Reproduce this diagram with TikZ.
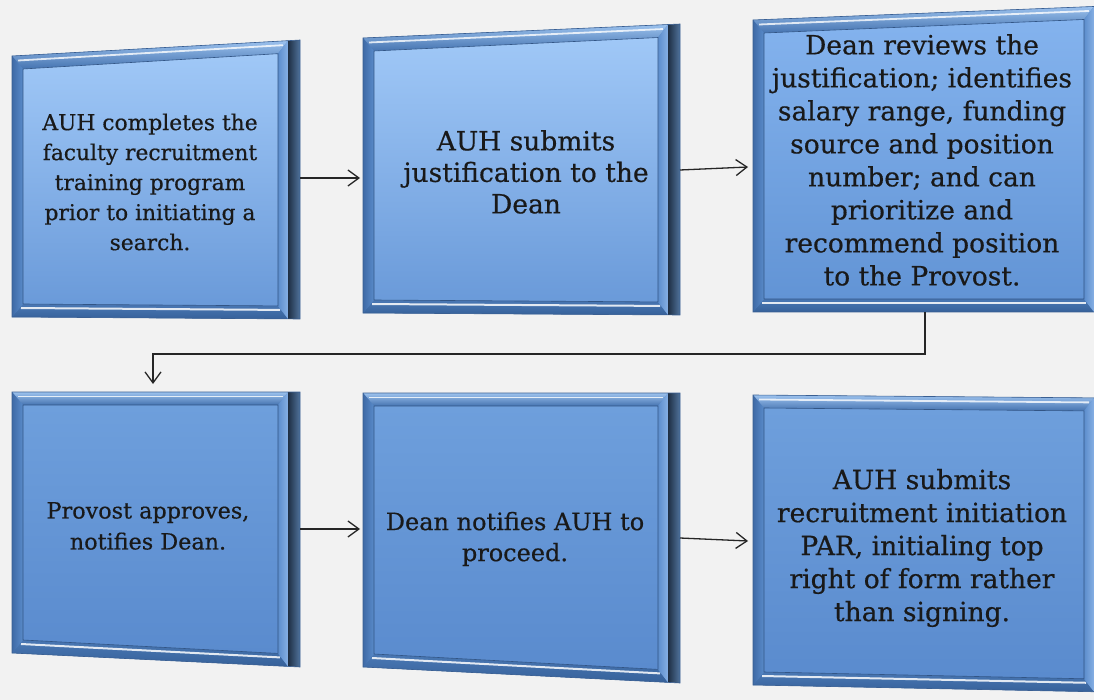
\documentclass[tikz,border=0pt]{standalone}
\usepackage{fontspec}
\setmainfont[FakeBold=0.5]{DejaVu Serif}
\usetikzlibrary{calc,arrows.meta}
\definecolor{bg}{HTML}{F2F2F2}
\definecolor{bevmid}{HTML}{5283C2}
\definecolor{bevtopA}{HTML}{9CC2EE}
\definecolor{bevtopB}{HTML}{4573B0}
\definecolor{bevbotA}{HTML}{4A78B4}
\definecolor{bevbotB}{HTML}{36619A}
\definecolor{bevleftA}{HTML}{3E6AA6}
\definecolor{bevleftB}{HTML}{5A8BCA}
\definecolor{bevrightA}{HTML}{5C8DCC}
\definecolor{bevrightB}{HTML}{86B0E4}
\definecolor{darkA}{HTML}{1F2F44}
\definecolor{darkB}{HTML}{50739C}
\definecolor{outl}{HTML}{3A5F92}
\definecolor{faceAtop}{HTML}{A0C8F7}
\definecolor{faceAbot}{HTML}{6A9AD9}
\definecolor{faceBtop}{HTML}{84B3EE}
\definecolor{faceBbot}{HTML}{6294D5}
\definecolor{faceCtop}{HTML}{6E9FDC}
\definecolor{faceCbot}{HTML}{5A8BCE}
\tikzset{
  boxtext/.style={inner sep=0pt, align=center, text=black!90},
  arr/.style={draw=black!85, line width=1.3pt, -{Straight Barb[length=11pt,width=16pt,line width=1.3pt]}},
  outline/.style={draw=outl, line width=0.6pt}
}
\newcommand\bevelbox[8]{%
  \pgfmathsetmacro\bfr{(#2-12-#1)/(#2-#1)}%
  \coordinate (A) at (#1,#3);
  \coordinate (C) at (#2,#4);
  \coordinate (D) at (#2,#6);
  \coordinate (F) at (#1,#5);
  \coordinate (B) at ($(A)!\bfr!(C)$);
  \coordinate (E) at ($(F)!\bfr!(D)$);
  \coordinate (itl) at ($(A)+(11,13)$);
  \coordinate (itr) at ($(B)+(-10,13)$);
  \coordinate (ibr) at ($(E)+(-10,-13)$);
  \coordinate (ibl) at ($(F)+(11,-13)$);
  \fill[bevmid] (A)--(B)--(E)--(F)--cycle;
  \shade[top color=bevtopA,bottom color=bevtopB] (A)--(B)--(itr)--(itl)--cycle;
  \shade[top color=bevbotA,bottom color=bevbotB] (ibl)--(ibr)--(E)--(F)--cycle;
  \shade[left color=bevleftA,right color=bevleftB] (A)--(itl)--(ibl)--(F)--cycle;
  \shade[left color=bevrightA,right color=bevrightB] (B)--(itr)--(ibr)--(E)--cycle;
  \draw[white,opacity=.8,line width=1.8pt] ($(A)+(6,4.5)$) -- ($(B)+(-5,4.5)$);
  \draw[white,opacity=.85,line width=2pt] ($(ibl)+(-2,4)$) -- ($(ibr)+(2,4)$);
  \shade[top color=#7,bottom color=#8] (itl)--(itr)--(ibr)--(ibl)--cycle;
  \draw[bevleftA!80!black,line width=0.6pt] (itl)--(itr)--(ibr)--(ibl)--cycle;
  \shade[left color=darkA,right color=darkB] (B)--(C)--(D)--(E)--cycle;
  \draw[outline] (A)--(C)--(D)--(F)--cycle;
}
\begin{document}
\begin{tikzpicture}[x=1pt,y=-1pt]
\useasboundingbox (0,0) rectangle (1094,700);
\clip (0,0) rectangle (1094,700);
\fill[bg] (0,0) rectangle (1094,700);

\bevelbox{12}{300}{56}{40}{317}{319}{faceAtop}{faceAbot}
\bevelbox{363}{680}{38}{24}{313}{315}{faceAtop}{faceAbot}
\bevelbox{753}{1106}{20}{6}{312}{312}{faceBtop}{faceBbot}
\bevelbox{12}{300}{392}{392}{653}{667}{faceCtop}{faceCbot}
\bevelbox{363}{680}{393}{393}{667}{683}{faceCtop}{faceCbot}
\bevelbox{753}{1106}{395}{398}{685}{692}{faceCtop}{faceCbot}

\node[boxtext, minimum width=288pt, minimum height=270pt, font=\fontsize{21.8}{30}\selectfont] (b1) at (150,182)
  {AUH completes the\\faculty recruitment\\training program\\prior to initiating a\\search.};
\node[boxtext, minimum width=317pt, minimum height=283pt, font=\fontsize{26.5}{31.5}\selectfont] (b2) at (526,172)
  {AUH submits\\justification to the\\Dean};
\node[boxtext, minimum width=341pt, minimum height=298pt, font=\fontsize{26.5}{33}\selectfont] (b3) at (922,160)
  {Dean reviews the\\justification; identifies\\salary range, funding\\source and position\\number; and can\\prioritize and\\recommend position\\to the Provost.};
\node[boxtext, minimum width=288pt, minimum height=268pt, font=\fontsize{22.3}{31}\selectfont] (b4) at (148,526)
  {Provost approves,\\notifies Dean.};
\node[boxtext, minimum width=317pt, minimum height=282pt, font=\fontsize{24}{31}\selectfont] (b5) at (515,539)
  {Dean notifies AUH to\\proceed.};
\node[boxtext, minimum width=341pt, minimum height=292pt, font=\fontsize{26.5}{33}\selectfont] (b6) at (922,548)
  {AUH submits\\recruitment initiation\\PAR, initialing top\\right of form rather\\than signing.};

\coordinate (s1) at (300,178);
\coordinate (e1) at (360,178);
\coordinate (s2) at (680,170);
\coordinate (e2) at (748,167);
\coordinate (s3) at (925,312);
\coordinate (k3) at (925,354);
\coordinate (e3) at (153,384);
\coordinate (s4) at (300,529);
\coordinate (e4) at (360,529);
\coordinate (s5) at (680,538);
\coordinate (e5) at (748,541);
\draw[arr] (s1) -- (e1);
\draw[arr] (s2) -- (e2);
\draw[arr] (s3) -- (k3) -| (e3);
\draw[arr] (s4) -- (e4);
\draw[arr] (s5) -- (e5);
\end{tikzpicture}
\end{document}
